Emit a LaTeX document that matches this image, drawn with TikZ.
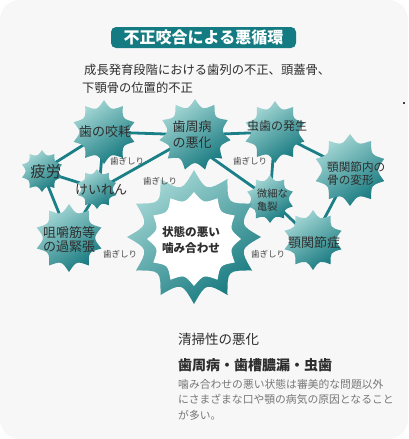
\documentclass[tikz,border=0pt]{standalone}
\usepackage{fontspec}
\setmainfont{Noto Sans CJK JP}
\usetikzlibrary{calc}
\pgfdeclarelayer{back}
\pgfdeclarelayer{bg}
\pgfsetlayers{back,bg,main}
\definecolor{bgcol}{HTML}{F7F7F7}
\definecolor{tealbox}{HTML}{137B81}
\definecolor{starlight}{HTML}{A6D8D6}
\definecolor{starmid}{HTML}{5DB0B1}
\definecolor{stardark}{HTML}{16797F}
\definecolor{linecol}{HTML}{1A7F87}
\definecolor{txt}{HTML}{2E2E2E}
\definecolor{graytxt}{HTML}{777777}
\definecolor{grindtxt}{HTML}{444444}
\newcommand\mystar[6][starshade]{%
  \pgfmathsetmacro\myvp{((#6)-0.25*cos(180/#5))*(#4)/0.75}%
  \path[#1,shift={(#2,#3)}] (-90:#4) \foreach \k in {1,...,#5} { .. controls ({-90+(\k-0.5)*360/#5}:\myvp) .. ({-90+\k*360/#5}:#4) } -- cycle;%
}
\tikzset{
  starshade/.style={shade, top color=starlight, middle color=starmid, bottom color=stardark, shading angle=35},
  whitestar/.style={fill=white},
  link/.style={draw=linecol, line width=2.8pt},
  lbl/.style={text=txt, inner sep=0pt, align=center},
  grind/.style={text=grindtxt, inner sep=0pt, font=\fontsize{8.5}{10}\selectfont},
}
\begin{document}
\begin{tikzpicture}[x=1pt,y=-1pt]
\useasboundingbox (0,0) rectangle (408,439);
\begin{pgfonlayer}{back}
\fill[white] (0,0) rectangle (408,439);
\fill[bgcol, rounded corners=20pt] (0,0) rectangle (408,439);
\end{pgfonlayer}
\fill[black!75] (403,102) rectangle (405,104);

% title
\node[fill=tealbox, rounded corners=5pt, minimum width=185pt, minimum height=21pt, inner sep=0pt,
      text=white, font=\fontsize{16}{18}\selectfont\bfseries] (title) at (203.5,37.5) {不正咬合による悪循環};
\node[anchor=west, text=txt, inner sep=0pt, align=left, font=\fontsize{12.3}{18}\selectfont] (intro) at (82,79)
  {\hspace{2pt}成長発育段階における歯列の不正、頭蓋骨、\\下顎骨の位置的不正};

% star centres
\coordinate (wear) at (104,132);
\coordinate (peri) at (195,135);
\coordinate (caries) at (275,132);
\coordinate (tmjbone) at (350,170);
\coordinate (crack) at (270,199);
\coordinate (tmj) at (313,240);
\coordinate (fatigue) at (42,171);
\coordinate (spasm) at (99,189);
\coordinate (muscle) at (69,238);
\coordinate (bad) at (194,237);
\coordinate (perilow) at (195,146);

\begin{pgfonlayer}{bg}
\draw[link] (wear) -- (peri);
\draw[link] (wear) -- (fatigue);
\draw[link] (wear) -- (spasm);
\draw[link] (fatigue) -- (spasm);
\draw[link] (peri) -- (spasm);
\draw[link] (fatigue) -- (muscle);
\draw[link] (spasm) -- (muscle);
\draw[link] (peri) -- (caries);
\draw[link] (perilow) -- (crack);
\draw[link] (caries) -- (crack);
\draw[link] (caries) -- (tmjbone);
\draw[link] (tmjbone) -- (tmj);
\draw[link] (crack) -- (tmj);
\end{pgfonlayer}

% stars
\mystar{104}{132}{32}{10}{0.77}
\mystar{195}{135}{36}{11}{0.78}
\mystar{275}{132}{31}{10}{0.77}
\mystar{350}{170}{36}{10}{0.78}
\mystar{270}{199}{24}{10}{0.78}
\mystar{313}{240}{30}{10}{0.77}
\mystar{42}{171}{21}{10}{0.78}
\mystar{97}{189}{20}{10}{0.78}
\mystar{69}{238}{34}{10}{0.77}
\mystar{194}{237}{67}{12}{0.77}
\mystar[whitestar]{194}{239}{47}{12}{0.83}

% star labels
\node[lbl, font=\fontsize{13}{15}\selectfont] (wear-t) at (105,132) {歯の咬耗};
\node[lbl, font=\fontsize{13}{16}\selectfont] (peri-t) at (192,135) {歯周病\\の悪化};
\node[lbl, font=\fontsize{12}{14}\selectfont] (caries-t) at (277,126) {虫歯の発生};
\node[lbl, align=left, font=\fontsize{11.6}{13.4}\selectfont, anchor=west] (tmjbone-t) at (327,173.5) {顎関節内の\\骨の変形};
\node[lbl, align=left, font=\fontsize{10.2}{13}\selectfont, anchor=west] (crack-t) at (257,200.5) {微細な\\亀裂};
\node[lbl, font=\fontsize{13}{15}\selectfont] (tmj-t) at (314,243) {顎関節症};
\node[lbl, font=\fontsize{15.5}{18}\selectfont] (fatigue-t) at (46,172) {疲労};
\node[lbl, font=\fontsize{13}{15}\selectfont] (spasm-t) at (101,190) {けいれん};
\node[lbl, font=\fontsize{13}{14}\selectfont] (muscle-t) at (69,240) {咀嚼筋等\\の過緊張};
\node[lbl, font=\fontsize{11.6}{16}\selectfont\bfseries] (bad-t) at (191,240) {状態の悪い\\噛み合わせ};

% grinding labels
\node[grind] (g1) at (127,161) {歯ぎしり};
\node[grind] (g2) at (160,181) {歯ぎしり};
\node[grind] (g3) at (120,254) {歯ぎしり};
\node[grind] (g4) at (250,161) {歯ぎしり};
\node[grind] (g5) at (268,254) {歯ぎしり};

% bottom texts
\node[anchor=west, inner sep=0pt, text=txt, font=\fontsize{13.5}{15}\selectfont] (clean) at (178,339) {清掃性の悪化};
\node[anchor=west, inner sep=0pt, text=txt, font=\fontsize{14}{16}\selectfont\bfseries] (dis) at (178,365) {歯周病・歯槽膿漏・虫歯};
\node[anchor=north west, inner sep=0pt, text=graytxt, align=left, font=\fontsize{10.8}{15.5}\selectfont] (desc) at (178,379)
  {噛み合わせの悪い状態は審美的な問題以外\\にさまざまな口や顎の病気の原因となること\\が多い。};
\end{tikzpicture}
\end{document}
